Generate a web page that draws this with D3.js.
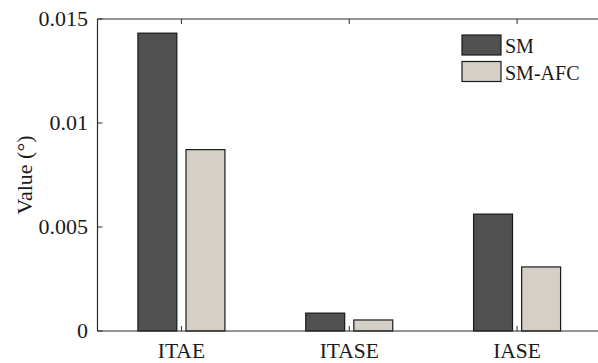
<!DOCTYPE html>
<html>
<head>
<meta charset="utf-8">
<script src="https://cdn.jsdelivr.net/npm/d3@7"></script>
<style>
  body { margin: 0; background: #fff; }
  svg text { font-family: "Liberation Serif", "Times New Roman", serif; fill: #1a1a1a; }
</style>
</head>
<body>
<svg id="chart" width="598" height="363"></svg>
<script>
var categories = ['ITAE', 'ITASE', 'IASE'];
var seriesNames = ['SM', 'SM-AFC'];
var smValues = [0.01432, 0.00086, 0.00562];
var afcValues = [0.00872, 0.00053, 0.00308];
var yTicks = [0, 0.005, 0.01, 0.015];
var yTickLabels = ['0', '0.005', '0.01', '0.015'];

var colors = { 'SM': '#505050', 'SM-AFC': '#d4d0c8' };

var svg = d3.select('#chart');
// note: "top" clashes with window.top, so use plot* names
var plotLeft = 97.5, plotTop = 19, plotBottom = 331, plotRight = 601;

var x = d3.scaleBand().domain(categories).range([plotLeft, plotRight]).padding(0);
var xSub = d3.scaleBand().domain(seriesNames).range([-43.5, 43.5]).paddingInner(0.19);
var y = d3.scaleLinear().domain([0, 0.015]).range([plotBottom, plotTop]);

var rows = categories.map(function(c, i) {
  return { cat: c, values: [
    { key: 'SM', v: smValues[i] },
    { key: 'SM-AFC', v: afcValues[i] }
  ] };
});

// bars
var groups = svg.selectAll('g.cat').data(rows).enter().append('g')
  .attr('class', 'cat')
  .attr('transform', function(d) { return 'translate(' + (x(d.cat) + x.bandwidth() / 2) + ',0)'; });

groups.selectAll('rect').data(function(d) { return d.values; }).enter().append('rect')
  .attr('x', function(d) { return xSub(d.key); })
  .attr('width', xSub.bandwidth())
  .attr('y', function(d) { return y(d.v); })
  .attr('height', function(d) { return plotBottom - y(d.v); })
  .style('fill', function(d) { return colors[d.key]; })
  .style('stroke', '#1a1a1a')
  .style('stroke-width', 1.2);

// axes lines
var axisColor = '#2b2b2b';
svg.append('line').attr('x1', plotLeft).attr('x2', plotRight).attr('y1', plotBottom).attr('y2', plotBottom)
  .style('stroke', axisColor).style('stroke-width', 1.2);
svg.append('line').attr('x1', plotLeft).attr('x2', plotRight).attr('y1', plotTop).attr('y2', plotTop)
  .style('stroke', axisColor).style('stroke-width', 1.2);
svg.append('line').attr('x1', plotLeft).attr('x2', plotLeft).attr('y1', plotTop).attr('y2', plotBottom)
  .style('stroke', axisColor).style('stroke-width', 1.2);

// x ticks (inward, top and bottom)
categories.forEach(function(c) {
  var cx = x(c) + x.bandwidth() / 2;
  svg.append('line').attr('x1', cx).attr('x2', cx).attr('y1', plotBottom).attr('y2', plotBottom - 5)
    .style('stroke', axisColor).style('stroke-width', 1);
  svg.append('line').attr('x1', cx).attr('x2', cx).attr('y1', plotTop).attr('y2', plotTop + 5)
    .style('stroke', axisColor).style('stroke-width', 1);
  svg.append('text').attr('x', cx).attr('y', 358)
    .attr('text-anchor', 'middle').style('font-size', '21.5px').text(c);
});

// y ticks
yTicks.forEach(function(t, i) {
  svg.append('line').attr('x1', plotLeft).attr('x2', plotLeft + 5).attr('y1', y(t)).attr('y2', y(t))
    .style('stroke', axisColor).style('stroke-width', 1);
  svg.append('text').attr('x', 88).attr('y', y(t) + 7)
    .attr('text-anchor', 'end').style('font-size', '22px').text(yTickLabels[i]);
});

// y label
svg.append('text')
  .attr('transform', 'translate(32,175) rotate(-90)')
  .attr('text-anchor', 'middle').style('font-size', '22px').text('Value (°)');

// legend
var legend = svg.append('g').attr('transform', 'translate(462,35)');
seriesNames.forEach(function(s, i) {
  legend.append('rect').attr('x', 0).attr('y', i * 26.5).attr('width', 39).attr('height', 20)
    .style('fill', colors[s]).style('stroke', '#1a1a1a').style('stroke-width', 1.2);
  legend.append('text').attr('x', 43).attr('y', i * 26.5 + 18)
    .style('font-size', '20px').text(s);
});
</script>
</body>
</html>
